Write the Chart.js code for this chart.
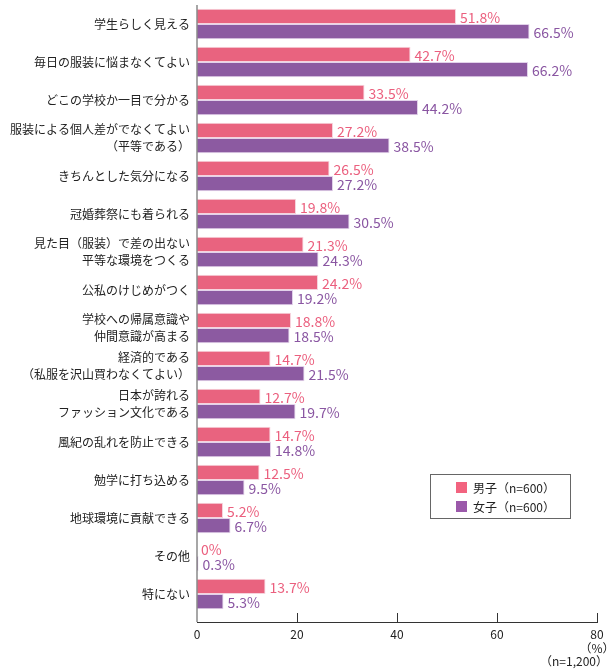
<!DOCTYPE html>
<html>
<head>
<meta charset="utf-8">
<script src="https://cdn.jsdelivr.net/npm/chart.js@4"></script>
<style>
  body { margin: 0; background: #fff; }
  #wrap { width: 612px; height: 672px; position: relative; }
</style>
</head>
<body>
<div id="wrap"><canvas id="grafico"></canvas></div>
<script>
const categorias = [
  '学生らしく見える',
  '毎日の服装に悩まなくてよい',
  'どこの学校か一目で分かる',
  ['服装による個人差がでなくてよい', '（平等である）'],
  'きちんとした気分になる',
  '冠婚葬祭にも着られる',
  ['見た目（服装）で差の出ない', '平等な環境をつくる'],
  '公私のけじめがつく',
  ['学校への帰属意識や', '仲間意識が高まる'],
  ['経済的である', '（私服を沢山買わなくてよい）'],
  ['日本が誇れる', 'ファッション文化である'],
  '風紀の乱れを防止できる',
  '勉学に打ち込める',
  '地球環境に貢献できる',
  'その他',
  '特にない'
];
const nomesSeries = ['男子（n=600）', '女子（n=600）'];
const valoresMasc = [51.8, 42.7, 33.5, 27.2, 26.5, 19.8, 21.3, 24.2, 18.8, 14.7, 12.7, 14.7, 12.5, 5.2, 0, 13.7];
const valoresFem = [66.5, 66.2, 44.2, 38.5, 27.2, 30.5, 24.3, 19.2, 18.5, 21.5, 19.7, 14.8, 9.5, 6.7, 0.3, 5.3];
const ticksX = [0, 20, 40, 60, 80];

const fonte = "'Noto Sans CJK JP', 'Noto Sans', sans-serif";
const corMasc = '#e9637f';
const corFem = '#8c5aa1';

// rótulos de valor no fim de cada barra
const rotulosPlugin = {
  id: 'rotulos',
  afterDatasetsDraw(chart) {
    const ctx = chart.ctx;
    ctx.save();
    ctx.font = '14px ' + fonte;
    ctx.textBaseline = 'middle';
    ctx.textAlign = 'left';
    chart.data.datasets.forEach((ds, i) => {
      chart.getDatasetMeta(i).data.forEach((bar, j) => {
        ctx.fillStyle = i === 0 ? '#eb5f7e' : '#8a56a2';
        ctx.fillText(ds.data[j] + '%', bar.x + 4, bar.y + 1);
      });
    });
    ctx.restore();
  }
};

// eixo x desenhado abaixo da área, com marcas para cima
const eixoPlugin = {
  id: 'eixo',
  afterDraw(chart) {
    const ctx = chart.ctx;
    const area = chart.chartArea;
    const sx = chart.scales.x;
    const yEixo = area.bottom + 9;
    ctx.save();
    ctx.strokeStyle = '#8a8a8a';
    ctx.lineWidth = 1.5;
    ctx.beginPath();
    ctx.moveTo(area.left, area.top);
    ctx.lineTo(area.left, yEixo);
    ctx.stroke();
    ctx.strokeStyle = '#333';
    ctx.lineWidth = 1;
    ctx.beginPath();
    ctx.moveTo(area.left, yEixo + 0.5);
    ctx.lineTo(sx.getPixelForValue(80) + 1, yEixo + 0.5);
    ctx.stroke();
    ticksX.slice(1).forEach(v => {
      const x = Math.round(sx.getPixelForValue(v)) + 0.5;
      ctx.beginPath();
      ctx.moveTo(x, yEixo - 9);
      ctx.lineTo(x, yEixo);
      ctx.stroke();
    });
    ctx.fillStyle = '#222';
    ctx.font = '12px ' + fonte;
    ctx.textBaseline = 'middle';
    ctx.textAlign = 'center';
    ctx.fillText('（%）', sx.getPixelForValue(80), yEixo + 26);
    ctx.textAlign = 'right';
    ctx.fillText('（n=1,200）', 608, yEixo + 39);

    // legenda
    ctx.strokeStyle = '#666';
    ctx.lineWidth = 1;
    ctx.strokeRect(430.5, 474.5, 140, 44);
    const cores = ['#f2637f', '#9b59aa'];
    nomesSeries.forEach((nome, i) => {
      ctx.fillStyle = cores[i];
      ctx.fillRect(456, 482 + i * 19, 11, 11);
      ctx.fillStyle = '#222';
      ctx.textAlign = 'left';
      ctx.fillText(nome, 473, 488 + i * 19);
    });
    ctx.restore();
  }
};

new Chart(document.getElementById('grafico'), {
  type: 'bar',
  data: {
    labels: categorias,
    datasets: [
      { label: nomesSeries[0], data: valoresMasc, backgroundColor: corMasc, borderColor: '#f6d3dd', borderWidth: 1 },
      { label: nomesSeries[1], data: valoresFem, backgroundColor: corFem, borderColor: '#e2d2ea', borderWidth: 1 }
    ]
  },
  options: {
    indexAxis: 'y',
    responsive: true,
    maintainAspectRatio: false,
    animation: false,
    events: [],
    categoryPercentage: 0.8,
    barPercentage: 1.0,
    layout: { autoPadding: false, padding: { top: 5, right: 15, left: 0, bottom: 0 } },
    plugins: {
      legend: { display: false },
      tooltip: { enabled: false }
    },
    scales: {
      x: {
        min: 0,
        max: 80,
        afterBuildTicks(scale) { scale.ticks = ticksX.map(v => ({ value: v })); },
        afterFit(scale) {
          scale.height = 59;
          scale.paddingLeft = 0;
          scale.paddingRight = 0;
        },
        grid: { display: false, drawTicks: false },
        border: { display: false },
        ticks: { color: '#222', padding: 14, font: { family: fonte, size: 12 } }
      },
      y: {
        afterFit(scale) {
          scale.width = 197;
          scale.paddingTop = 0;
          scale.paddingBottom = 0;
        },
        grid: { display: false, drawTicks: false },
        border: { display: false },
        ticks: { color: '#222', padding: 7, font: { family: fonte, size: 12, lineHeight: 1.35 } }
      }
    }
  },
  plugins: [rotulosPlugin, eixoPlugin]
});
</script>
</body>
</html>
